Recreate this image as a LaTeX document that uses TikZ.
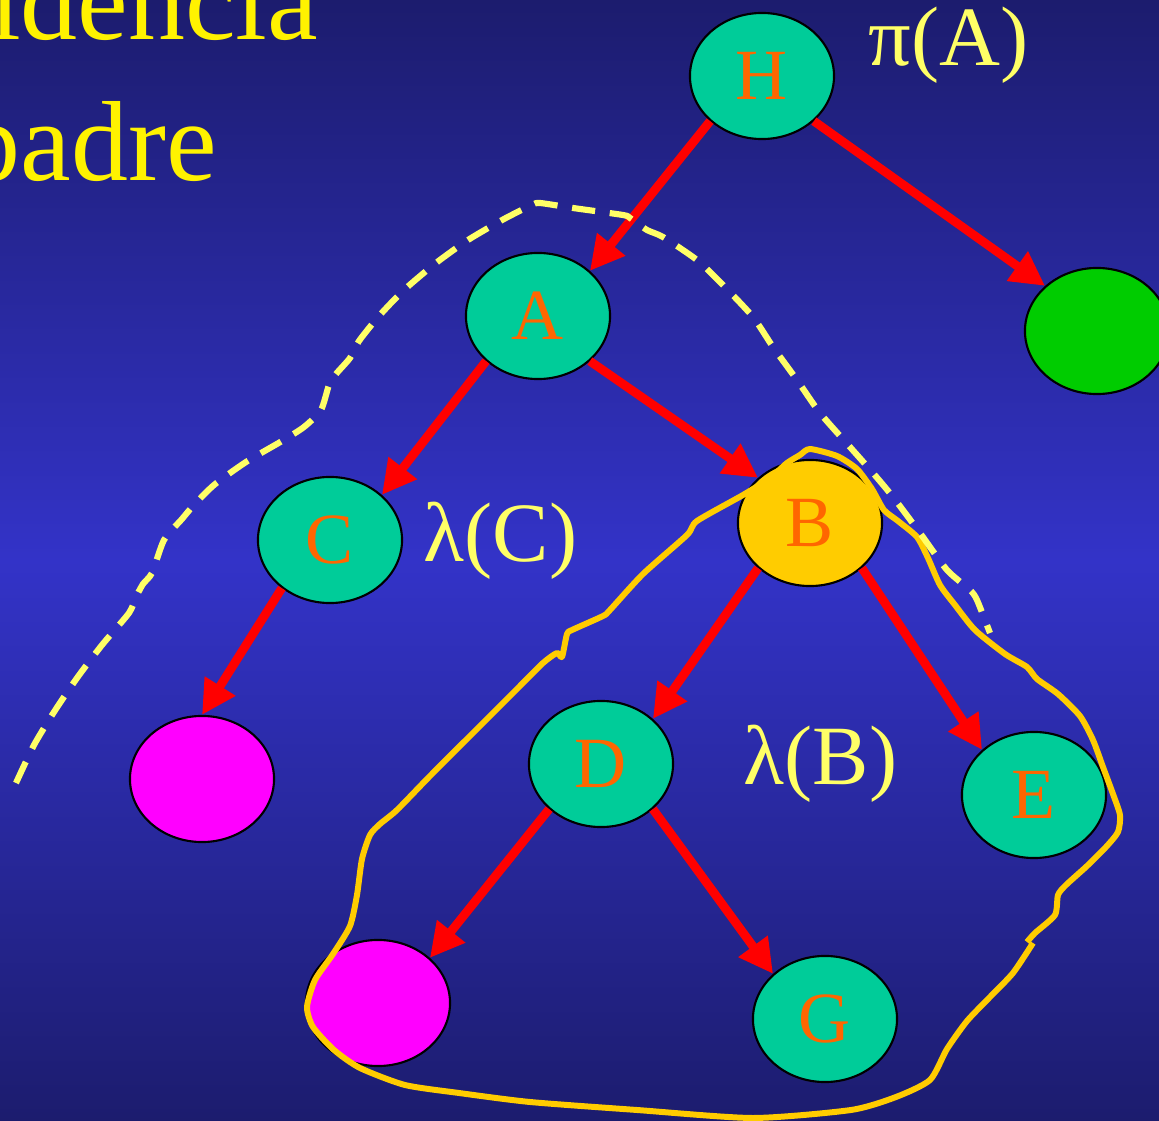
\documentclass[tikz,border=0pt]{standalone}
\usepackage{fontspec}
\setmainfont{Liberation Serif}
\usetikzlibrary{shapes.geometric,arrows.meta}
\definecolor{fondo}{HTML}{1C1C6E}
\definecolor{fondomedio}{HTML}{3333C8}
\definecolor{verdeazul}{HTML}{00CC99}
\definecolor{verde}{HTML}{00CC00}
\definecolor{rosa}{HTML}{FF00FF}
\definecolor{oro}{HTML}{FFCC00}
\definecolor{naranja}{HTML}{FF6600}
\definecolor{amarillo}{HTML}{FFFF66}
\tikzset{nodo/.style = {draw, ellipse, line width=0.6pt, minimum width=1.44cm, minimum height=1.26cm, inner sep=0pt, fill=verdeazul, text=naranja, font=\fontsize{20.5}{24}\selectfont},
         arco/.style = {draw=red, line width=2.5pt, -{Triangle[length=9.7pt,width=9.7pt]}},
         msg/.style = {anchor=base west, inner sep=0pt, text=amarillo, font=\fontsize{24}{28}\selectfont},
         titulo/.style = {anchor=base west, inner sep=0pt, text=yellow, font=\fontsize{32.4}{38}\selectfont},
         frontera/.style = {draw=amarillo, line width=1.75pt, dash pattern=on 6.6pt off 4.2pt},
         region/.style = {draw=oro, line width=1.7pt, line join=round},
}
\begin{document}
\begin{tikzpicture}[x=0.01cm, y=-0.01cm]

  \useasboundingbox (0,0) rectangle (1159,1121);
  \clip (0,0) rectangle (1159,1121);
  \shade[top color=fondo, bottom color=fondo, middle color=fondomedio] (0,0) rectangle (1159,1121);

  % title, cut at the left border
  \node[titulo] (t1) at (-11.7,40) {idencia};
  \node[titulo] (t2) at (-37,180) {padre};

  % network
  \node[nodo] (H) at (762,76) {H};
  \node[nodo] (A) at (538,316) {A};
  \node[nodo, fill=verde] (F) at (1097,331) {};
  \node[nodo] (C) at (330,540) {C};
  \node[nodo, fill=oro] (B) at (810,523) {B};
  \node[nodo, fill=rosa] (K) at (202,779) {};
  \node[nodo] (D) at (601,764) {D};
  \node[nodo] (E) at (1034,795) {E};
  \node[nodo, fill=rosa] (J) at (378,1003) {};
  \node[nodo] (G) at (825,1019) {G};

  \draw[arco] (H.221) -- (A.41);
  \draw[arco] (H.319) -- (F.139);
  \draw[arco] (A.221) -- (C.41);
  \draw[arco] (A.319) -- (B.139);
  \draw[arco] (C.225) -- (K.90);
  \draw[arco] (B.221) -- (D.41);
  \draw[arco] (B.319) -- (E.139);
  \draw[arco] (D.221) -- (J.41);
  \draw[arco] (D.319) -- (G.139);

  % messages
  \node[msg] (piA) at (868,65) {π(A)};
  \node[msg] (lC) at (423,562) {λ(C)};
  \node[msg] (lB) at (743,785) {λ(B)};

  % region below B
  \draw[region] plot[smooth, tension=0.4] coordinates {(1027,942) (1035,933) (1055,915) (1058,895) (1066,885)
    (1087,866) (1106,847) (1118,832) (1120,815) (1113,794) (1103,767) (1093,740) (1080,716) (1058,694)
    (1037,679) (1027,667) (1005,654) (975,630) (955,605) (940,585) (928,558) (917,537) (898,521)
    (884,510) (872,489) (857,469) (837,456) (810,449) (800,455) (787,463) (770,478) (743,495) (697,521)
    (687,535) (643,574) (610,610) (603,616) (572,630) (567,634) (562,657) (557,653) (543,663) (517,689)
    (477,729) (430,776) (397,810) (380,824) (370,835) (362,859) (357,895) (350,926) (333,954) (315,980)
    (307,1007) (313,1027) (334,1050) (360,1068) (405,1085) (459,1093) (530,1102) (637,1110) (753,1118)
    (851,1110) (896,1097) (930,1080) (947,1049) (967,1021) (990,997) (1013,973) (1033,943)};

  % separation
  \draw[frontera] plot[smooth, tension=0.4] coordinates {(16,783) (34,745) (54,712) (77,678) (102,645)
    (129,613) (136,597) (143,584) (152,573) (164,540) (182,519) (193,506) (214,485) (246,462) (282,441)
    (304,427) (321,410) (329,385) (336,374) (350,358) (359,341) (379,316) (404,290) (436,263) (468,240)
    (504,219) (532,205) (540,203) (573,208) (623,215) (630,218) (647,230) (663,237) (697,260) (723,285)
    (753,317) (773,347) (797,380) (820,413) (850,447) (873,473) (893,497) (920,533) (947,570) (970,590)
    (977,600) (990,633)};

\end{tikzpicture}
\end{document}
